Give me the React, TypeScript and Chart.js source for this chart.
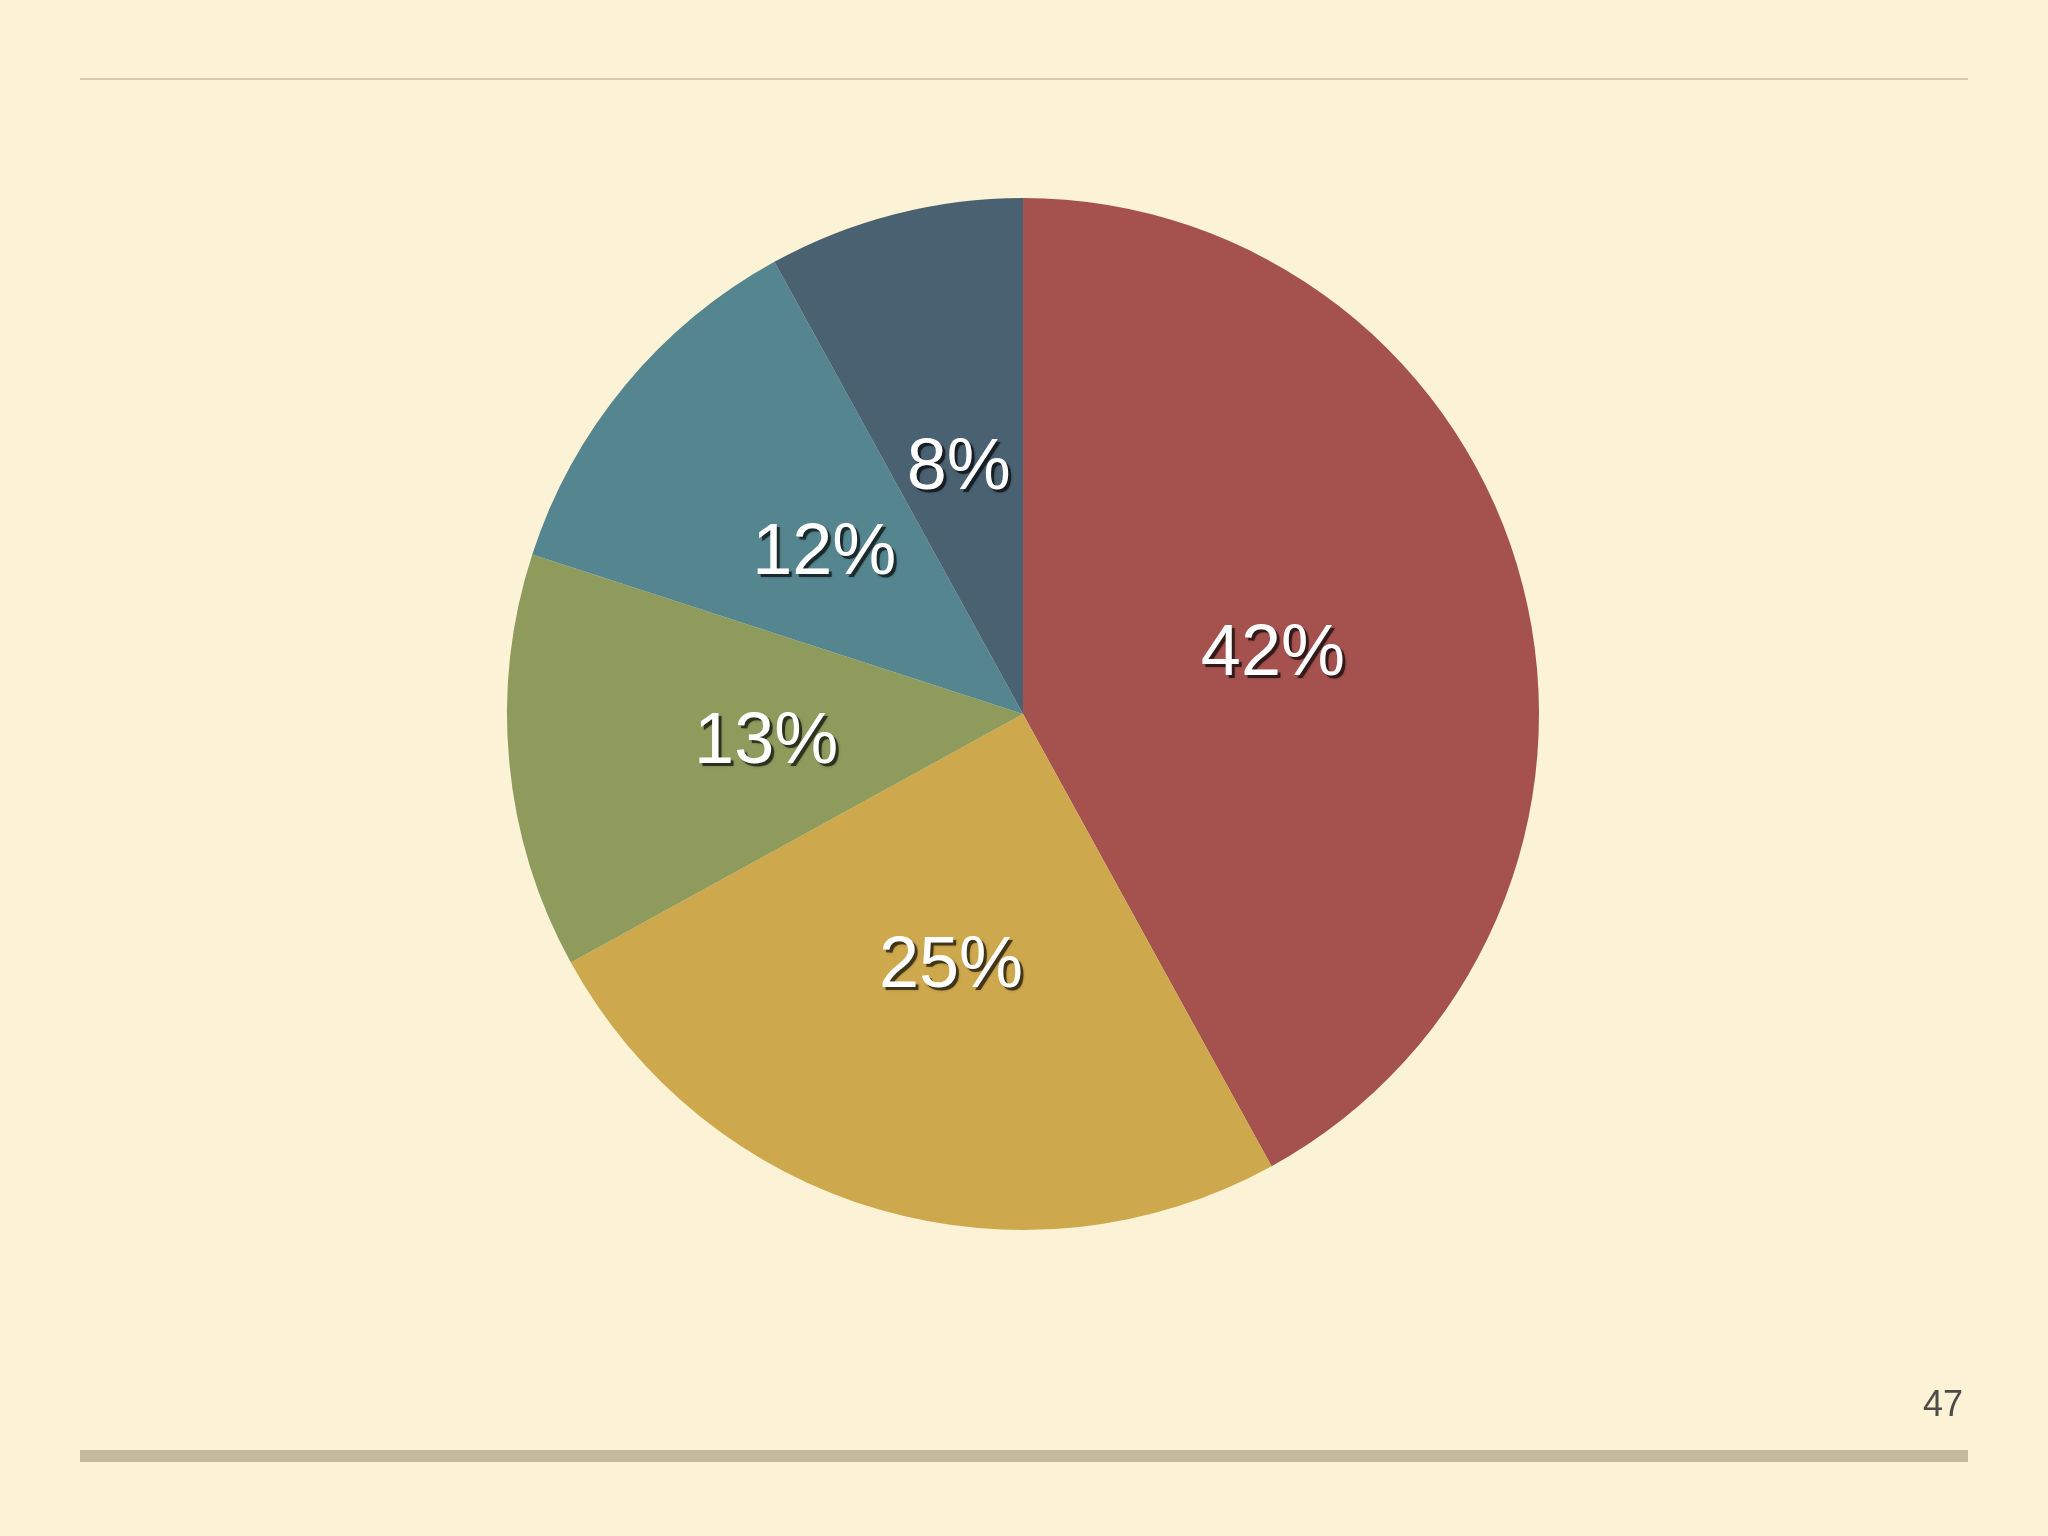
import React, { useEffect, useRef } from "react";
import { Chart, registerables } from "chart.js";

Chart.register(...registerables);

const categories = ["A", "B", "C", "D", "E"];
const values = [42, 25, 13, 12, 8];
const labelsText = ["42%", "25%", "13%", "12%", "8%"];
const colors = ["#a5524f", "#cea84c", "#8e9b5d", "#55868f", "#4a6172"];
const pageNumber = "47";

const labelPlugin = {
  id: "sliceLabels",
  afterDatasetsDraw(chart: any) {
    const ctx = chart.ctx;
    const meta = chart.getDatasetMeta(0);
    ctx.save();
    ctx.font = "72px 'Liberation Sans', Arial, sans-serif";
    ctx.textAlign = "center";
    ctx.textBaseline = "middle";
    meta.data.forEach((arc: any, i: number) => {
      const p = arc.tooltipPosition();
      const y = p.y + 5;
      ctx.fillStyle = "rgba(0,0,0,0.6)";
      ctx.shadowColor = "rgba(0,0,0,0.4)";
      ctx.shadowBlur = 3;
      ctx.fillText(labelsText[i], p.x + 3, y + 3);
      ctx.shadowColor = "transparent";
      ctx.shadowBlur = 0;
      ctx.fillStyle = "#ffffff";
      ctx.fillText(labelsText[i], p.x, y);
    });
    ctx.restore();
  },
};

export default function App() {
  const ref = useRef<HTMLCanvasElement>(null);
  useEffect(() => {
    document.body.style.margin = "0";
    const chart = new Chart(ref.current!, {
      type: "pie",
      data: {
        labels: categories,
        datasets: [
          {
            data: values,
            backgroundColor: colors,
            borderWidth: 0,
          },
        ],
      },
      options: {
        responsive: false,
        animation: false,
        layout: { padding: { top: 198, bottom: 306, left: 507, right: 509 } },
        plugins: {
          legend: { display: false },
          tooltip: { enabled: false },
        },
      },
      plugins: [labelPlugin],
    });
    return () => chart.destroy();
  }, []);

  return (
    <div
      style={{
        position: "relative",
        width: 2048,
        height: 1536,
        background: "#fcf2d5",
        overflow: "hidden",
      }}
    >
      <div
        style={{
          position: "absolute",
          left: 80,
          top: 78,
          width: 1888,
          height: 2,
          background: "#d6caa9",
        }}
      />
      <canvas
        ref={ref}
        width={2048}
        height={1536}
        style={{ position: "absolute", left: 0, top: 0 }}
      />
      <div
        style={{
          position: "absolute",
          left: 80,
          top: 1450,
          width: 1888,
          height: 12,
          background: "#c5b99c",
        }}
      />
      <div
        style={{
          position: "absolute",
          right: 2048 - 1963,
          top: 1384,
          fontFamily: "'Liberation Sans', Arial, sans-serif",
          fontSize: 36,
          color: "#4f4c47",
          lineHeight: "40px",
        }}
      >
        {pageNumber}
      </div>
    </div>
  );
}
